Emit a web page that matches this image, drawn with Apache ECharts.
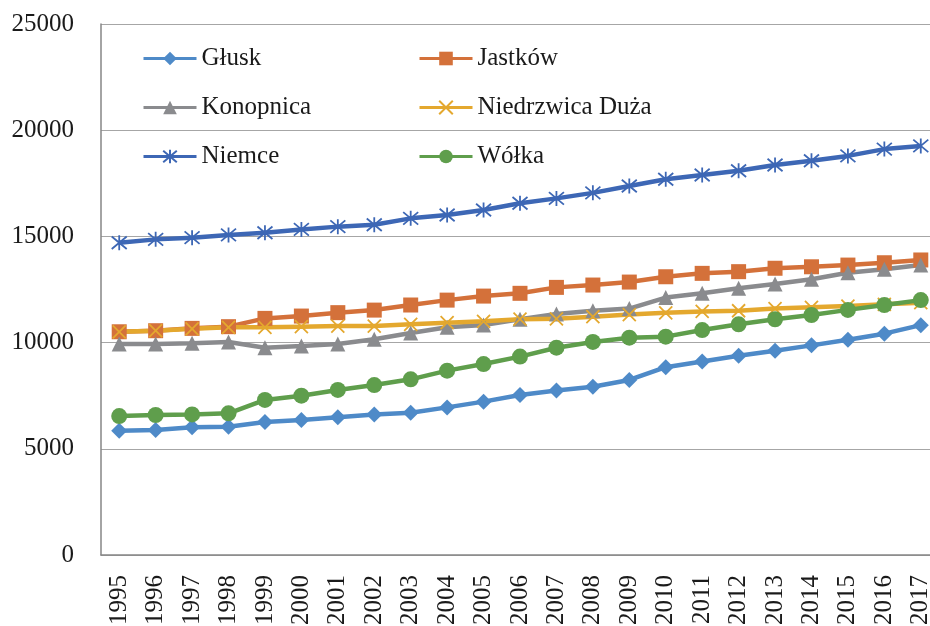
<!DOCTYPE html>
<html>
<head>
<meta charset="utf-8">
<script src="https://cdn.jsdelivr.net/npm/echarts@6/dist/echarts.min.js"></script>
<style>
  html, body { margin: 0; padding: 0; background: #fff; }
  #chart { width: 930px; height: 626px; }
</style>
</head>
<body>
<div id="chart"></div>
<script>
const years = ['1995', '1996', '1997', '1998', '1999', '2000', '2001', '2002', '2003', '2004', '2005', '2006',
  '2007', '2008', '2009', '2010', '2011', '2012', '2013', '2014', '2015', '2016', '2017']

const glusk = [5850, 5890, 6010, 6040, 6260, 6360, 6480, 6620, 6700, 6950, 7220, 7530,
  7740, 7920, 8240, 8840, 9110, 9380, 9620, 9870, 10130, 10420, 10820]
const jastkow = [10510, 10560, 10670, 10750, 11140, 11250, 11410, 11530, 11770, 12000, 12190, 12320,
  12600, 12710, 12850, 13100, 13260, 13340, 13500, 13570, 13650, 13760, 13890]
const konopnica = [9930, 9930, 9970, 10030, 9760, 9840, 9930, 10160, 10450, 10720, 10830, 11100,
  11350, 11500, 11600, 12120, 12320, 12560, 12760, 12980, 13290, 13450, 13650]
const niedrzwica = [10510, 10560, 10650, 10720, 10720, 10750, 10780, 10780, 10860, 10940, 11000, 11100,
  11120, 11220, 11320, 11400, 11470, 11500, 11600, 11660, 11720, 11800, 11880]
const niemce = [14700, 14860, 14940, 15070, 15170, 15330, 15460, 15550, 15850, 16010, 16240, 16560,
  16790, 17050, 17370, 17690, 17890, 18090, 18360, 18560, 18790, 19110, 19260]
const wolka = [6540, 6590, 6620, 6670, 7300, 7500, 7770, 8000, 8270, 8680, 8990, 9340,
  9760, 10030, 10230, 10280, 10590, 10860, 11100, 11300, 11540, 11770, 12000]

const yTicks = [0, 5000, 10000, 15000, 20000, 25000]

const font = '"Liberation Serif", "Times New Roman", serif'
const xMark = 'path://M0,0 L10,10 M10,0 L0,10'
const starMark = 'path://M0,0 L10,10 M10,0 L0,10 M5,-1 L5,11'

const chart = echarts.init(document.getElementById('chart'))

const mk = (name, data, color, symbol, size, outline) => ({
  name,
  type: 'line',
  data,
  symbol,
  symbolSize: size,
  showAllSymbol: true,
  lineStyle: { color, width: 4.5 },
  itemStyle: outline
    ? { color: 'rgba(0,0,0,0)', borderColor: color, borderWidth: 1.8 }
    : { color, borderColor: color, borderWidth: 0 },
  emphasis: { disabled: true },
  z: 3
})

const legendText = { fontFamily: font, fontSize: 25, color: '#1a1a1a' }
const legendBase = {
  orient: 'vertical', top: 46, padding: 0, itemWidth: 53, itemHeight: 17, itemGap: 24,
  lineStyle: { width: 3 }, textStyle: legendText
}

chart.setOption({
  animation: false,
  grid: { left: 101, top: 24, width: 838, height: 531, containLabel: false, outerBoundsMode: 'none' },
  legend: [
    Object.assign({ left: 142, data: ['Głusk', 'Konopnica', 'Niemce'] }, legendBase),
    Object.assign({ left: 418, data: ['Jastków', 'Niedrzwica Duża', 'Wółka'] }, legendBase)
  ],
  xAxis: {
    type: 'category',
    data: years,
    boundaryGap: true,
    axisLine: { lineStyle: { color: '#868686', width: 1.5 } },
    axisTick: { show: false },
    axisLabel: { rotate: 90, margin: 20, interval: 0, fontFamily: font, fontSize: 25, color: '#1a1a1a' }
  },
  yAxis: {
    type: 'value',
    min: yTicks[0],
    max: yTicks[yTicks.length - 1],
    interval: 5000,
    axisLine: { show: true, lineStyle: { color: '#868686', width: 1.5 } },
    axisTick: { show: false },
    splitLine: { lineStyle: { color: '#a6a6a6', width: 1 } },
    axisLabel: { margin: 27, fontFamily: font, fontSize: 25, color: '#1a1a1a', formatter: v => String(v) }
  },
  series: [
    mk('Głusk', glusk, '#4e8ac8', 'diamond', 16, false),
    mk('Jastków', jastkow, '#d4713a', 'rect', 15, false),
    mk('Konopnica', konopnica, '#8a8b8e', 'triangle', 15, false),
    mk('Niedrzwica Duża', niedrzwica, '#e4a82e', xMark, 13, true),
    mk('Niemce', niemce, '#3d67b5', starMark, 15, true),
    mk('Wółka', wolka, '#5f9e4c', 'circle', 16, false)
  ]
})
</script>
</body>
</html>
